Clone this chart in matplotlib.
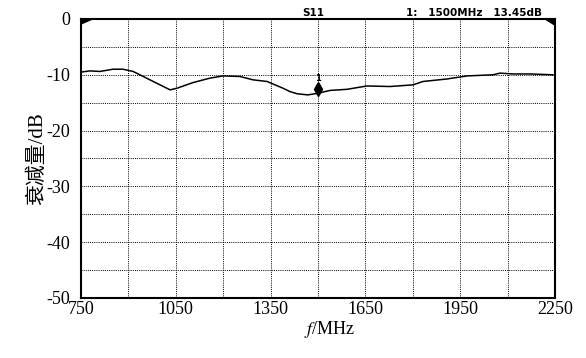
import matplotlib.pyplot as plt
import numpy as np

# S11 curve
freq_mhz = [752, 778, 810, 851, 883, 915, 968, 1032, 1054, 1104, 1158, 1199, 1253,
            1294, 1339, 1389, 1411, 1434, 1468, 1500, 1538, 1592, 1655, 1728, 1801,
            1832, 1908, 1972, 2054, 2076, 2117, 2171, 2244]
s11_db = [-9.5, -9.3, -9.4, -9.0, -9.0, -9.4, -10.9, -12.7, -12.4, -11.4, -10.6, -10.2, -10.3,
          -10.9, -11.2, -12.4, -13.0, -13.4, -13.6, -13.3, -12.8, -12.6, -12.0, -12.1, -11.8,
          -11.2, -10.75, -10.2, -10.0, -9.7, -9.85, -9.85, -10.0]

marker_freq = 1500
marker_db = -12.5

x_ticks = [750, 1050, 1350, 1650, 1950, 2250]
y_ticks = [0, -10, -20, -30, -40, -50]

plt.rcParams['mathtext.fontset'] = 'stix'
serif = ['Liberation Serif', 'Noto Sans CJK SC']

fig = plt.figure(figsize=(5.86, 3.58), dpi=100)
ax = fig.add_axes([81 / 586, 1 - 298 / 358, 474 / 586, 279 / 358])

ax.plot(freq_mhz, s11_db, color='black', linewidth=1.1)
ax.plot(marker_freq, marker_db, marker='d', color='black', markersize=7)
ax.text(marker_freq, marker_db + 1.0, '1', ha='center', va='bottom',
        fontsize=6, fontweight='bold')

ax.set_xlim(750, 2250)
ax.set_ylim(-50, 0)
xg = np.arange(750, 2251, 150)
yg = np.arange(-50, 1, 5)
ax.set_xticks(xg)
ax.set_yticks(yg)
ax.set_xticklabels([str(v) if v in x_ticks else '' for v in xg], family=serif, fontsize=13)
ax.set_yticklabels([str(v) if v in y_ticks else '' for v in yg], family=serif, fontsize=13)
ax.tick_params(axis='y', length=0, pad=8)
ax.tick_params(axis='x', length=0, pad=2)
ax.grid(True, color='black', linestyle=(0, (1, 1.2)), linewidth=0.7)

for s in ax.spines.values():
    s.set_linewidth(1.5)

ax.set_xlabel('$f$/MHz', family=serif, fontsize=13)
ax.xaxis.set_label_coords((330 - 81) / 474, -21 / 279)
ax.set_ylabel('衰减量/dB', family=serif, fontsize=15)
ax.yaxis.set_label_coords(-34 / 474, 0.5)

# reference triangles in the top corners
ax.fill([0, 0.024, 0], [1, 1, 0.982], transform=ax.transAxes, color='black', clip_on=False)
ax.fill([1, 0.979, 1], [1, 1, 0.978], transform=ax.transAxes, color='black', clip_on=False)

fig.text(313 / 586, 1 - 13 / 358, 'S11', ha='center', va='center',
         fontsize=7.5, fontweight='bold', family='DejaVu Sans')
fig.text(542 / 586, 1 - 13 / 358, '1:   1500MHz   13.45dB', ha='right', va='center',
         fontsize=7.5, fontweight='bold', family='DejaVu Sans')

fig.savefig('out.png', dpi=100)
